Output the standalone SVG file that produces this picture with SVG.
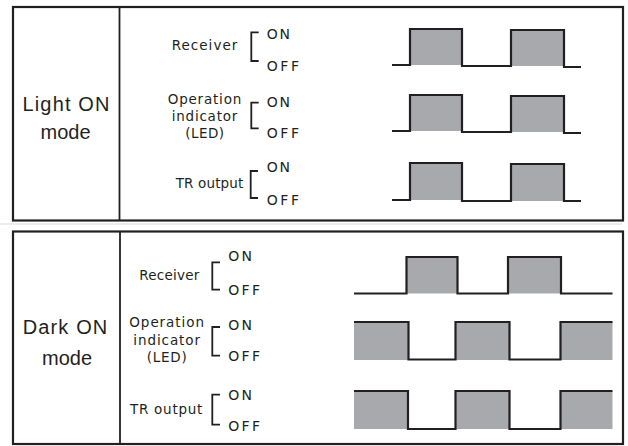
<svg xmlns="http://www.w3.org/2000/svg" width="628" height="446" viewBox="0 0 628 446">
<style>
.frame{fill:none;stroke:#231f20;stroke-width:2.2}
.div{stroke:#231f20;stroke-width:1.8}
.mode{font-family:"Liberation Sans",Arial,sans-serif;font-size:20px;fill:#231f20;text-anchor:middle}
.lbl{font-family:"DejaVu Sans","Liberation Sans",sans-serif;font-size:13.5px;fill:#231f20}
.st{font-family:"DejaVu Sans","Liberation Sans",sans-serif;font-size:14px;fill:#231f20}
.br{fill:none;stroke:#231f20;stroke-width:1.8}
.wave{fill:none;stroke:#231f20;stroke-width:2.2;stroke-linejoin:miter}
.pulse{fill:#a7a9ac}
</style>
<rect width="628" height="446" fill="#ffffff"/>
<line x1="0" y1="224" x2="622" y2="224" stroke="#e6e6e6" stroke-width="1.5"/>

<g id="light-on-panel">
  <rect class="frame" x="13" y="7" width="610" height="213.5"/>
  <line class="div" x1="119.5" y1="7" x2="119.5" y2="220.5"/>
  <text class="mode" x="66" y="111" textLength="87">Light ON</text>
  <text class="mode" x="65.5" y="139">mode</text>
</g>
<g id="light-receiver">
  <text class="lbl" x="171.7" y="50" textLength="65.6">Receiver</text>
  <path class="br" d="M258.7,32.3 H251.3 V61 H258.7"/>
  <text class="st" x="266.7" y="39" textLength="23.3">ON</text>
  <text class="st" x="266.7" y="71" textLength="32.3">OFF</text>
</g>
<g id="light-led">
  <text class="lbl" x="167.7" y="103.5" textLength="73.6">Operation</text>
  <text class="lbl" x="171.7" y="121" textLength="65.6">indicator</text>
  <text class="lbl" x="185.3" y="138" textLength="38.7">(LED)</text>
  <path class="br" d="M258.7,102.7 H251.3 V128.3 H258.7"/>
  <text class="st" x="266.7" y="106.5" textLength="23.3">ON</text>
  <text class="st" x="266.7" y="137.5" textLength="32.3">OFF</text>
</g>
<g id="light-tr">
  <text class="lbl" x="175.7" y="188" textLength="67.6">TR output</text>
  <path class="br" d="M258,171 H250.7 V198 H258"/>
  <text class="st" x="266.7" y="172" textLength="23.3">ON</text>
  <text class="st" x="266.7" y="205" textLength="32.3">OFF</text>
</g>

<g id="dark-on-panel">
  <rect class="frame" x="13" y="231.5" width="610" height="212.5"/>
  <line class="div" x1="120" y1="231.5" x2="120" y2="444"/>
  <text class="mode" x="65" y="334" textLength="84.6">Dark ON</text>
  <text class="mode" x="67" y="364.5">mode</text>
</g>
<g id="dark-receiver">
  <text class="lbl" x="139.3" y="280.3" textLength="60">Receiver</text>
  <path class="br" d="M220,262.3 H212.3 V289.7 H220"/>
  <text class="st" x="228.3" y="260.7" textLength="23.7">ON</text>
  <text class="st" x="228.3" y="294.7" textLength="31.7">OFF</text>
</g>
<g id="dark-led">
  <text class="lbl" x="129.3" y="327.3" textLength="74.7">Operation</text>
  <text class="lbl" x="133.3" y="344.7" textLength="66.7">indicator</text>
  <text class="lbl" x="146.7" y="362.3" textLength="40">(LED)</text>
  <path class="br" d="M220,327 H212.3 V355.7 H220"/>
  <text class="st" x="228.3" y="329.7" textLength="23.7">ON</text>
  <text class="st" x="228.3" y="360.7" textLength="31.7">OFF</text>
</g>
<g id="dark-tr">
  <text class="lbl" x="130" y="413.7" textLength="72.3">TR output</text>
  <path class="br" d="M220,394.7 H212.3 V424.7 H220"/>
  <text class="st" x="228.3" y="399.7" textLength="23.7">ON</text>
  <text class="st" x="228.3" y="431.3" textLength="31.7">OFF</text>
</g>

<g id="waveforms">
  <rect class="pulse" x="410" y="29" width="52" height="36"/>
  <rect class="pulse" x="511" y="30" width="53" height="36"/>
  <path class="wave" d="M392,65 H410 V29 H462 V66 H511 V30 H564 V67 H581"/>
  <rect class="pulse" x="410" y="95" width="52" height="36"/>
  <rect class="pulse" x="511" y="96" width="53" height="36"/>
  <path class="wave" d="M392,131 H410 V95 H462 V132 H511 V96 H564 V133 H581"/>
  <rect class="pulse" x="410" y="163" width="52" height="37"/>
  <rect class="pulse" x="511" y="164" width="53" height="37"/>
  <path class="wave" d="M392,200 H410 V163 H462 V201 H511 V164 H564 V201 H581"/>

  <rect class="pulse" x="406.5" y="257" width="51" height="36.5"/>
  <rect class="pulse" x="508" y="257" width="53" height="36.5"/>
  <path class="wave" d="M354,293.5 H406.5 V257 H457.5 V293.5 H508 V257 H561 V293.5 H612.5"/>
  <rect class="pulse" x="354" y="322" width="54.5" height="38"/>
  <rect class="pulse" x="455.5" y="322" width="54" height="38"/>
  <rect class="pulse" x="560.5" y="322" width="52" height="38"/>
  <path class="wave" d="M354,322 H408.5 V359.5 H455.5 V322 H509.5 V359.5 H560.5 V322 H612.5"/>
  <rect class="pulse" x="354" y="391" width="54" height="38"/>
  <rect class="pulse" x="455.5" y="391" width="54" height="38"/>
  <rect class="pulse" x="560.5" y="391" width="52" height="38"/>
  <path class="wave" d="M354,391 H408 V429 H455.5 V391 H509.5 V429 H560.5 V391 H612.5"/>
</g>
</svg>
